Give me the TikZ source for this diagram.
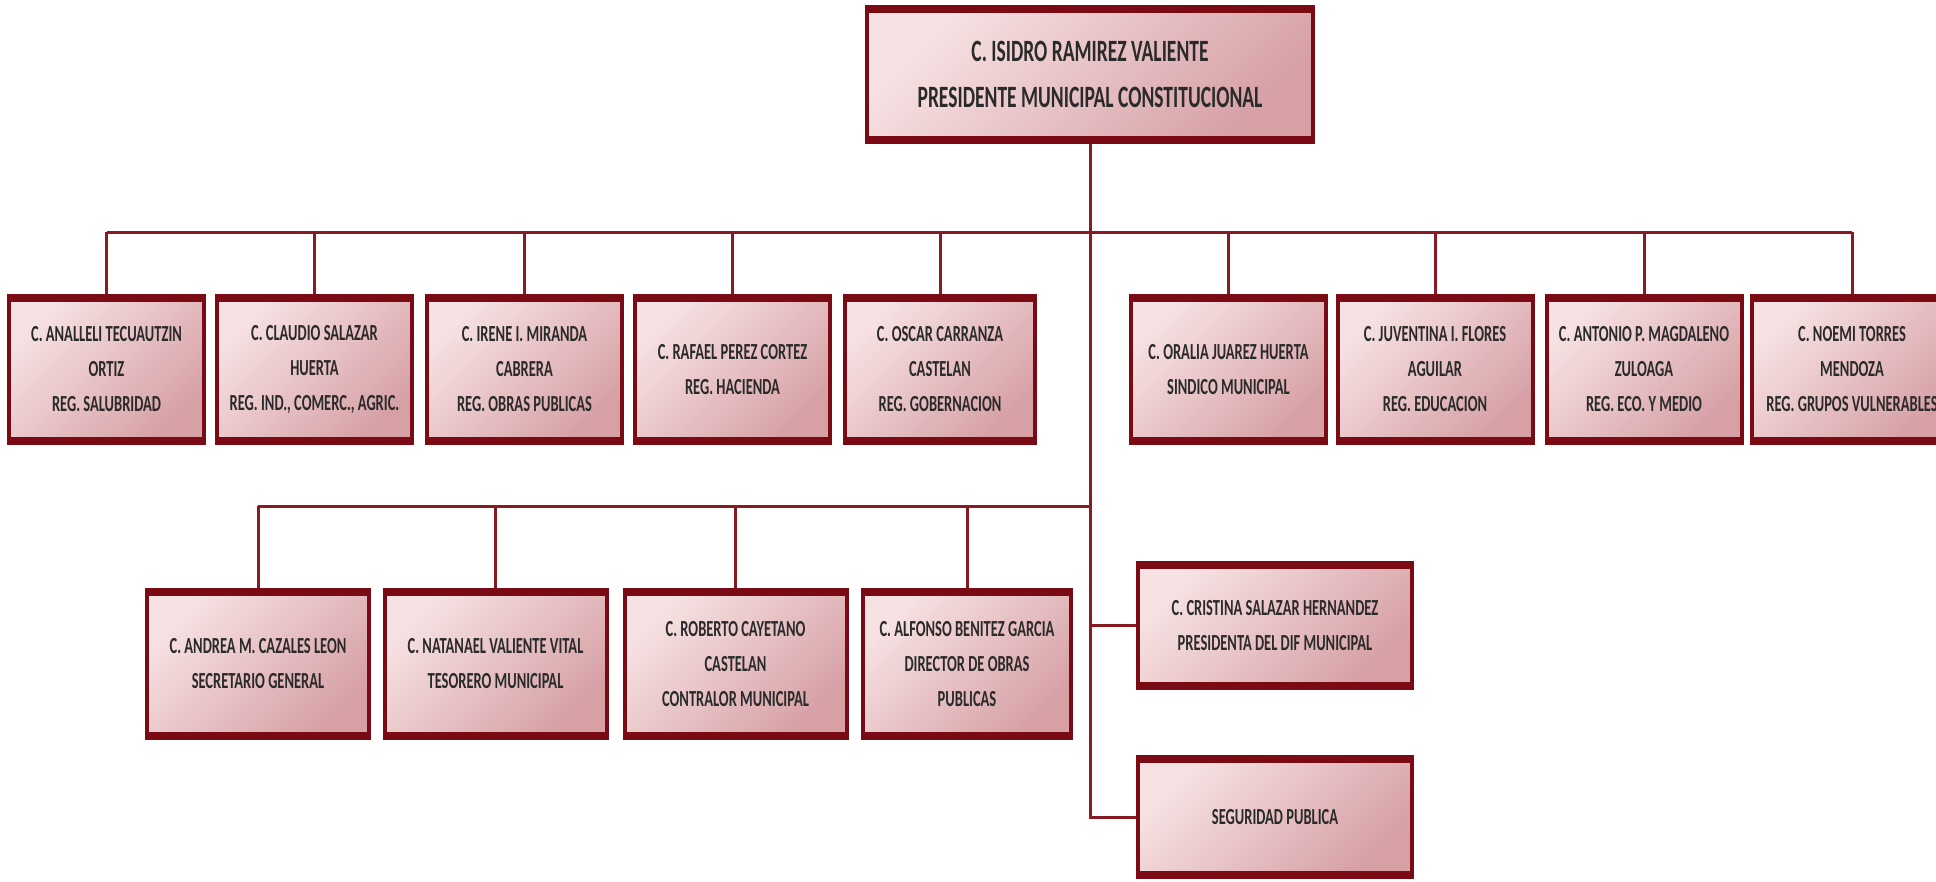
\documentclass[tikz,border=0pt]{standalone}
\usepackage{fontspec}
\newfontfamily\carg{Carlito}[FakeStretch=0.63]
\usepackage{tikz}

\definecolor{borde}{HTML}{7A0B14}
\definecolor{guinda}{HTML}{8A1A22}
\definecolor{rosaclaro}{HTML}{F7E2E3}
\definecolor{rosaoscuro}{HTML}{D6A0A5}
\definecolor{texto}{HTML}{2A2A2A}

\begin{document}
\begin{tikzpicture}[x=1pt,y=-1pt,
  cargo/.style={draw=borde,line width=4pt,left color=rosaclaro,right color=rosaoscuro,
    shading angle=45,inner sep=0pt,align=center,text=texto,
    font=\carg\bfseries\fontsize{23}{35}\selectfont,
    minimum width=195pt,minimum height=147pt,
    path picture={
      \fill[borde] (path picture bounding box.north west) rectangle ([yshift=-6pt]path picture bounding box.north east);
      \fill[borde] (path picture bounding box.south west) rectangle ([yshift=6pt]path picture bounding box.south east);}},
  fila2/.style={cargo,minimum width=222pt,minimum height=148pt},
  linea/.style={draw=guinda,line width=3pt}]
  \useasboundingbox[fill=white] (0,0) rectangle (1936,881);

  \node[cargo,minimum width=446pt,minimum height=135pt,
        font=\carg\bfseries\fontsize{31}{46}\selectfont] (pres) at (1090,74.5)
        {C. ISIDRO RAMIREZ VALIENTE\\PRESIDENTE MUNICIPAL CONSTITUCIONAL};

  % regidores y sindico
  \node[cargo] (reg1) at (106.5,369.5) {C. ANALLELI TECUAUTZIN\\ORTIZ\\REG. SALUBRIDAD};
  \node[cargo] (reg2) at (314.5,369.5) {C. CLAUDIO SALAZAR\\HUERTA\\REG. IND., COMERC., AGRIC.};
  \node[cargo] (reg3) at (524.5,369.5) {C. IRENE I. MIRANDA\\CABRERA\\REG. OBRAS PUBLICAS};
  \node[cargo] (reg4) at (732.5,369.5) {C. RAFAEL PEREZ CORTEZ\\REG. HACIENDA};
  \node[cargo,minimum width=190pt] (reg5) at (940,369.5) {C. OSCAR CARRANZA\\CASTELAN\\REG. GOBERNACION};
  \node[cargo] (sind) at (1228.5,369.5) {C. ORALIA JUAREZ HUERTA\\SINDICO MUNICIPAL};
  \node[cargo] (reg6) at (1435,369.5) {C. JUVENTINA I. FLORES\\AGUILAR\\REG. EDUCACION};
  \node[cargo] (reg7) at (1644,369.5) {C. ANTONIO P. MAGDALENO\\ZULOAGA\\REG. ECO. Y MEDIO};
  \node[cargo,minimum width=200pt] (reg8) at (1852,369.5) {C. NOEMI TORRES\\MENDOZA\\REG. GRUPOS VULNERABLES};

  % dependencias
  \node[fila2] (secre) at (258,664) {C. ANDREA M. CAZALES LEON\\SECRETARIO GENERAL};
  \node[fila2] (teso) at (495.5,664) {C. NATANAEL VALIENTE VITAL\\TESORERO MUNICIPAL};
  \node[fila2] (contra) at (735.5,664) {C. ROBERTO CAYETANO\\CASTELAN\\CONTRALOR MUNICIPAL};
  \node[fila2,minimum width=208pt] (obras) at (967,664) {C. ALFONSO BENITEZ GARCIA\\DIRECTOR DE OBRAS\\PUBLICAS};
  \node[cargo,minimum width=274pt,minimum height=125pt] (dif) at (1275,625.5) {C. CRISTINA SALAZAR HERNANDEZ\\PRESIDENTA DEL DIF MUNICIPAL};
  \node[cargo,minimum width=274pt,minimum height=120pt] (segur) at (1275,817) {SEGURIDAD PUBLICA};

  \coordinate (bus1) at (1090,232);
  \coordinate (bus2) at (1090,506);

  \draw[linea] (pres.south) |- (segur.west);
  \draw[linea] (dif.west) -- (dif.west -| pres.south);
  \draw[linea] (reg1.north |- bus1) -- (reg8.north |- bus1);
  \foreach \n in {reg1,reg2,reg3,reg4,reg5,sind,reg6,reg7,reg8}
    \draw[linea] (\n.north) -- (\n.north |- bus1);
  \draw[linea] (secre.north |- bus2) -- (bus2);
  \foreach \n in {secre,teso,contra,obras}
    \draw[linea] (\n.north) -- (\n.north |- bus2);
\end{tikzpicture}
\end{document}
